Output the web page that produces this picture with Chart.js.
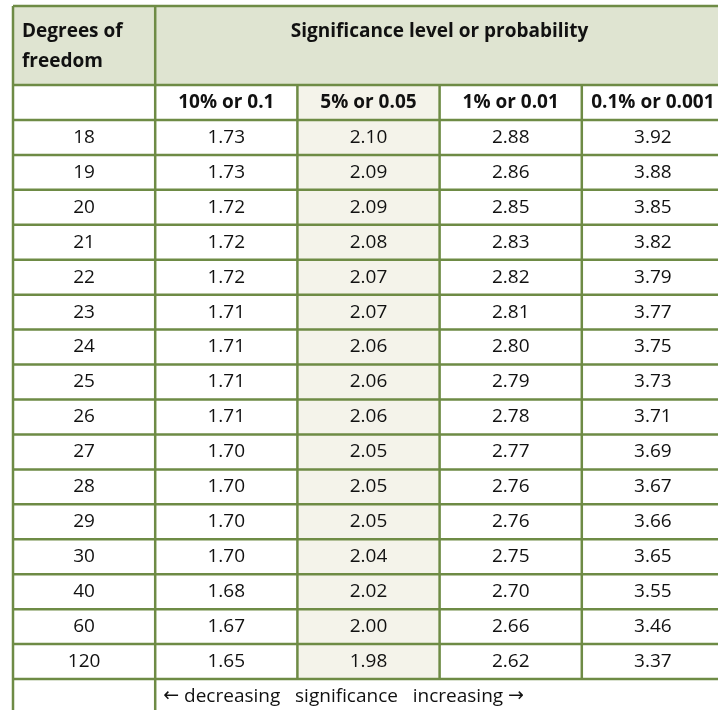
<!DOCTYPE html>
<html>
<head>
<meta charset="utf-8">
<script src="https://cdn.jsdelivr.net/npm/chart.js@4"></script>
<style>
  html, body { margin: 0; padding: 0; background: #fff; overflow: hidden; }
  #wrap { width: 724px; height: 714px; }
</style>
</head>
<body>
<div id="wrap"><canvas id="chart"></canvas></div>
<script>
const columns = ['df', '10% or 0.1', '5% or 0.05', '1% or 0.01', '0.1% or 0.001'];
const degrees = [18, 19, 20, 21, 22, 23, 24, 25, 26, 27, 28, 29, 30, 40, 60, 120];
const p10 = ['1.73','1.73','1.72','1.72','1.72','1.71','1.71','1.71','1.71','1.70','1.70','1.70','1.70','1.68','1.67','1.65'];
const p05 = ['2.10','2.09','2.09','2.08','2.07','2.07','2.06','2.06','2.06','2.05','2.05','2.05','2.04','2.02','2.00','1.98'];
const p01 = ['2.88','2.86','2.85','2.83','2.82','2.81','2.80','2.79','2.78','2.77','2.76','2.76','2.75','2.70','2.66','2.62'];
const p001 = ['3.92','3.88','3.85','3.82','3.79','3.77','3.75','3.73','3.71','3.69','3.67','3.66','3.65','3.55','3.46','3.37'];
const rows = ['head', ...degrees.map(String), 'foot'];
const headTitle = 'Significance level or probability';
const dfTitle = ['Degrees of', 'freedom'];
const footParts = ['\u2190', ' decreasing   significance   increasing ', '\u2192'];

const BORDER = '#6e8b45';
const HEAD_BG = '#dfe4d1';
const SHADE = '#f4f3ea';
const FONT = '"Open Sans", "Noto Sans", sans-serif';

const tablePlugin = {
  id: 'table',
  afterDraw(chart) {
    const ctx = chart.ctx;
    const x = chart.scales.x, y = chart.scales.y;
    const a = chart.chartArea;
    const cw = x.getPixelForValue(1) - x.getPixelForValue(0);
    const rh = y.getPixelForValue(1) - y.getPixelForValue(0);
    const colL = i => x.getPixelForValue(i) - cw / 2;
    const rowT = j => y.getPixelForValue(j) - rh / 2;
    const top = 6;
    ctx.save();
    ctx.fillStyle = HEAD_BG;
    ctx.fillRect(a.left, top, a.right - a.left, a.top - top);
    ctx.fillStyle = SHADE;
    ctx.fillRect(colL(2), rowT(0), cw, rowT(rows.length - 1) - rowT(0));
    ctx.strokeStyle = BORDER;
    ctx.lineWidth = 2.5;
    ctx.beginPath();
    for (let j = 0; j < rows.length; j++) {
      const yy = rowT(j);
      ctx.moveTo(a.left, yy); ctx.lineTo(a.right, yy);
    }
    ctx.moveTo(a.left, top); ctx.lineTo(a.right, top);
    ctx.moveTo(a.left, top); ctx.lineTo(a.left, a.bottom);
    ctx.moveTo(colL(1), top); ctx.lineTo(colL(1), a.bottom);
    for (let i = 2; i < columns.length; i++) {
      ctx.moveTo(colL(i), rowT(0)); ctx.lineTo(colL(i), rowT(rows.length - 1));
    }
    ctx.stroke();
    ctx.fillStyle = '#111';
    ctx.textBaseline = 'middle';
    ctx.font = 'bold 19px ' + FONT;
    ctx.textAlign = 'left';
    ctx.fillText(dfTitle[0], a.left + 9, 32);
    ctx.fillText(dfTitle[1], a.left + 9, 62);
    ctx.textAlign = 'center';
    ctx.fillText(headTitle, (colL(1) + a.right) / 2, 32);
    for (let i = 1; i < columns.length; i++) {
      ctx.fillText(columns[i], x.getPixelForValue(i), y.getPixelForValue(0));
    }
    ctx.font = '19px ' + FONT;
    const series = [degrees, p10, p05, p01, p001];
    degrees.forEach((d, k) => {
      const yy = y.getPixelForValue(k + 1);
      series.forEach((s, i) => ctx.fillText(String(s[k]), x.getPixelForValue(i), yy));
    });
    ctx.textAlign = 'left';
    let fx = colL(1) + 8;
    const fy = y.getPixelForValue(rows.length - 1);
    footParts.forEach((p, i) => {
      ctx.font = (i === 1 ? '19px ' + FONT : '19px "DejaVu Sans", sans-serif');
      ctx.fillText(p, fx, fy);
      fx += ctx.measureText(p).width;
    });
    ctx.restore();
  }
};

new Chart(document.getElementById('chart'), {
  type: 'bar',
  data: { labels: columns, datasets: [{ data: [] }] },
  options: {
    responsive: true,
    maintainAspectRatio: false,
    animation: false,
    layout: { padding: { top: 85, left: 13, right: 0, bottom: 0 } },
    plugins: { legend: { display: false }, tooltip: { enabled: false } },
    scales: {
      x: { type: 'category', labels: columns, offset: true, display: false },
      y: { type: 'category', labels: rows, offset: true, display: false }
    }
  },
  plugins: [tablePlugin]
});
</script>
</body>
</html>
